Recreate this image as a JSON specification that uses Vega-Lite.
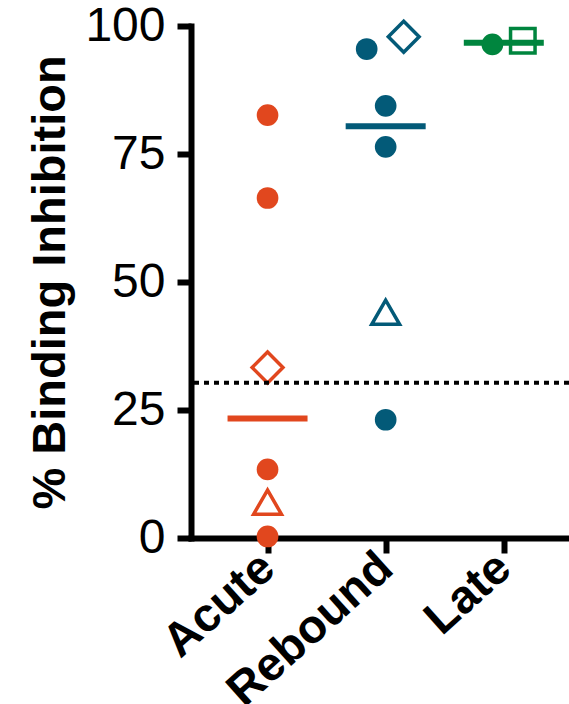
{
  "$schema": "https://vega.github.io/schema/vega-lite/v6.json",
  "width": 378,
  "height": 512,
  "autosize": {"type": "none"},
  "padding": {"left": 191, "top": 26, "right": 0, "bottom": 166},
  "background": "white",
  "config": {
    "view": {"stroke": null},
    "axis": {
      "domainColor": "black",
      "domainWidth": 6,
      "domainCap": "square",
      "tickColor": "black",
      "tickWidth": 6,
      "grid": false,
      "labelColor": "black",
      "titleColor": "black"
    }
  },
  "data": {
    "values": [
      {"group": "Acute", "value": 82.6, "marker": "circle", "jitter": 0},
      {"group": "Acute", "value": 66.4, "marker": "circle", "jitter": 0},
      {"group": "Acute", "value": 13.4, "marker": "circle", "jitter": 0},
      {"group": "Acute", "value": 0.3, "marker": "circle", "jitter": 0},
      {"group": "Acute", "value": 33.3, "marker": "diamond", "jitter": 0},
      {"group": "Acute", "value": 7.0, "marker": "triangle", "jitter": 0},
      {"group": "Rebound", "value": 95.5, "marker": "circle", "jitter": -1},
      {"group": "Rebound", "value": 84.4, "marker": "circle", "jitter": 0},
      {"group": "Rebound", "value": 76.4, "marker": "circle", "jitter": 0},
      {"group": "Rebound", "value": 23.1, "marker": "circle", "jitter": 0},
      {"group": "Rebound", "value": 97.9, "marker": "diamond", "jitter": 0.95},
      {"group": "Rebound", "value": 44.1, "marker": "triangle", "jitter": 0},
      {"group": "Late", "value": 96.4, "marker": "circle", "jitter": -0.6},
      {"group": "Late", "value": 97.1, "marker": "square", "jitter": 1}
    ]
  },
  "layer": [
    {
      "mark": {"type": "tick", "size": 80, "thickness": 6, "opacity": 1},
      "encoding": {
        "x": {
          "field": "group", "type": "nominal",
          "scale": {"type": "point", "domain": ["Acute", "Rebound", "Late"], "padding": 0.6, "align": 0.54},
          "axis": {
            "title": null,
            "labelAngle": -42,
            "labelAlign": "right",
            "labelBaseline": "middle",
            "labelFont": "Liberation Sans",
            "labelFontWeight": "bold",
            "labelFontSize": 47,
            "labelPadding": 8,
            "labelLimit": 0,
            "tickSize": 15
          }
        },
        "y": {
          "aggregate": "median", "field": "value", "type": "quantitative",
          "scale": {"domain": [0, 100], "nice": false, "zero": true},
          "axis": {
            "title": "% Binding Inhibition",
            "values": [0, 25, 50, 75, 100],
            "labelFont": "Liberation Sans",
            "labelFontSize": 48,
            "labelPadding": 12,
            "tickSize": 14,
            "titleFont": "Liberation Sans",
            "titleFontWeight": "bold",
            "titleFontSize": 47,
            "titlePadding": 10
          }
        },
        "color": {
          "field": "group", "type": "nominal",
          "scale": {"domain": ["Acute", "Rebound", "Late"], "range": ["#E1471E", "#035A78", "#00853E"]},
          "legend": null
        }
      }
    },
    {
      "transform": [{"filter": "datum.marker === 'circle'"}],
      "mark": {"type": "point", "filled": true, "opacity": 1, "shape": "circle", "size": 470},
      "encoding": {
        "x": {"field": "group", "type": "nominal"},
        "xOffset": {"field": "jitter", "type": "quantitative", "scale": {"domain": [-1, 1], "range": [-19, 19]}},
        "y": {"field": "value", "type": "quantitative"},
        "color": {"field": "group", "type": "nominal", "legend": null}
      }
    },
    {
      "transform": [{"filter": "datum.marker !== 'circle'"}],
      "mark": {"type": "point", "filled": false, "opacity": 1, "strokeWidth": 3.5},
      "encoding": {
        "x": {"field": "group", "type": "nominal"},
        "xOffset": {"field": "jitter", "type": "quantitative", "scale": {"domain": [-1, 1], "range": [-19, 19]}},
        "y": {"field": "value", "type": "quantitative"},
        "color": {"field": "group", "type": "nominal", "legend": null},
        "shape": {
          "field": "marker", "type": "nominal",
          "scale": {"domain": ["diamond", "triangle", "square"], "range": ["diamond", "triangle-up", "square"]},
          "legend": null
        },
        "size": {
          "field": "marker", "type": "nominal",
          "scale": {"domain": ["diamond", "triangle", "square"], "range": [950, 600, 480]},
          "legend": null
        }
      }
    },
    {
      "data": {"values": [{"threshold": 30.3}]},
      "mark": {"type": "rule", "color": "black", "strokeWidth": 4, "strokeDash": [5, 5]},
      "encoding": {
        "y": {"field": "threshold", "type": "quantitative"}
      }
    }
  ]
}
